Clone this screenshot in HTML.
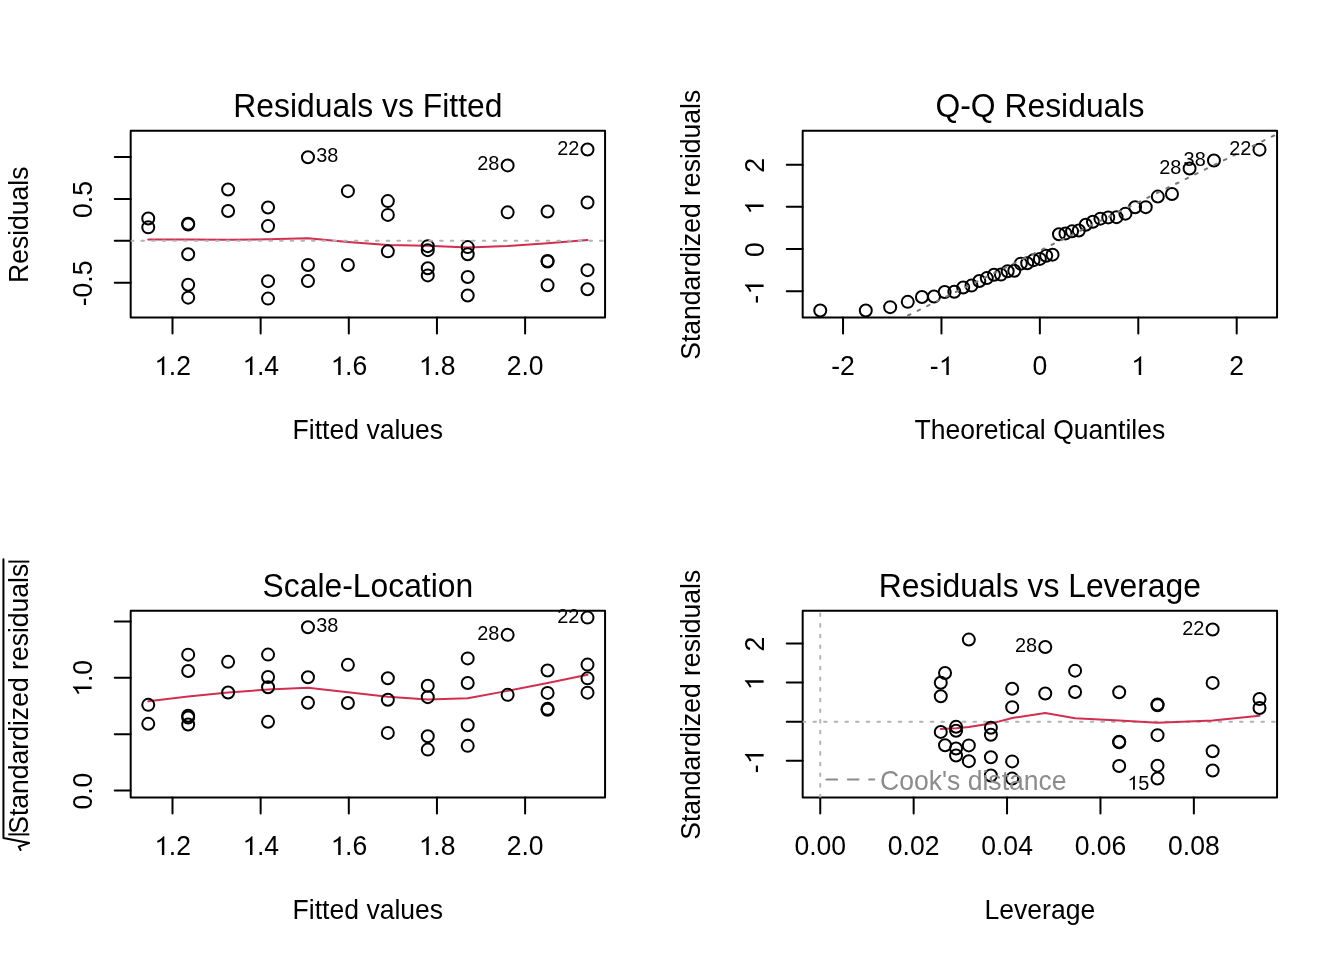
<!DOCTYPE html><html><head><meta charset="utf-8"><style>html,body{margin:0;padding:0;background:#fff}svg{display:block;will-change:transform}text{font-family:"Liberation Sans",sans-serif;fill:#000}</style></head><body><svg width="1344" height="960" viewBox="0 0 1344 960"><rect width="1344" height="960" fill="#fff"/><defs><clipPath id="c0_0"><rect x="130.68" y="130.68" width="474.39" height="186.78"/></clipPath><clipPath id="c0_480"><rect x="130.68" y="610.68" width="474.39" height="186.78"/></clipPath><clipPath id="c672_0"><rect x="802.68" y="130.68" width="474.39" height="186.78"/></clipPath><clipPath id="c672_480"><rect x="802.68" y="610.68" width="474.39" height="186.78"/></clipPath></defs>
<rect x="130.68" y="130.68" width="474.39" height="186.78" fill="none" stroke="#000" stroke-width="2" stroke-linejoin="round"/>
<line x1="172.50" y1="317.45" x2="172.50" y2="333.39" stroke="#000" stroke-width="2" stroke-linecap="round"/>
<g transform="translate(172.50,374.90) scale(1,1.043)"><text text-anchor="middle" font-size="26.56"> .2</text><path transform="translate(-18.46,0) scale(0.02656,-0.02656)" d="M387,0 L387,675 L351,675 C322,632 250,565 112,500 L134,436 C205,462 260,497 295,530 L295,0 Z"/></g>
<line x1="260.65" y1="317.45" x2="260.65" y2="333.39" stroke="#000" stroke-width="2" stroke-linecap="round"/>
<g transform="translate(260.65,374.90) scale(1,1.043)"><text text-anchor="middle" font-size="26.56"> .4</text><path transform="translate(-18.46,0) scale(0.02656,-0.02656)" d="M387,0 L387,675 L351,675 C322,632 250,565 112,500 L134,436 C205,462 260,497 295,530 L295,0 Z"/></g>
<line x1="348.80" y1="317.45" x2="348.80" y2="333.39" stroke="#000" stroke-width="2" stroke-linecap="round"/>
<g transform="translate(348.80,374.90) scale(1,1.043)"><text text-anchor="middle" font-size="26.56"> .6</text><path transform="translate(-18.46,0) scale(0.02656,-0.02656)" d="M387,0 L387,675 L351,675 C322,632 250,565 112,500 L134,436 C205,462 260,497 295,530 L295,0 Z"/></g>
<line x1="436.95" y1="317.45" x2="436.95" y2="333.39" stroke="#000" stroke-width="2" stroke-linecap="round"/>
<g transform="translate(436.95,374.90) scale(1,1.043)"><text text-anchor="middle" font-size="26.56"> .8</text><path transform="translate(-18.46,0) scale(0.02656,-0.02656)" d="M387,0 L387,675 L351,675 C322,632 250,565 112,500 L134,436 C205,462 260,497 295,530 L295,0 Z"/></g>
<line x1="525.10" y1="317.45" x2="525.10" y2="333.39" stroke="#000" stroke-width="2" stroke-linecap="round"/>
<text transform="translate(525.10,374.90) scale(1,1.043)" text-anchor="middle" font-size="26.56">2.0</text>
<line x1="130.68" y1="282.83" x2="114.74" y2="282.83" stroke="#000" stroke-width="2" stroke-linecap="round"/>
<text transform="translate(91.60,283.43) rotate(-90) scale(1,1.043)" text-anchor="middle" font-size="26.56">-0.5</text>
<line x1="130.68" y1="240.87" x2="114.74" y2="240.87" stroke="#000" stroke-width="2" stroke-linecap="round"/>
<line x1="130.68" y1="198.90" x2="114.74" y2="198.90" stroke="#000" stroke-width="2" stroke-linecap="round"/>
<text transform="translate(91.60,199.50) rotate(-90) scale(1,1.043)" text-anchor="middle" font-size="26.56">0.5</text>
<line x1="130.68" y1="156.94" x2="114.74" y2="156.94" stroke="#000" stroke-width="2" stroke-linecap="round"/>
<text transform="translate(367.87,116.80) scale(1,1.043)" text-anchor="middle" font-size="31.87">Residuals vs Fitted</text>
<text transform="translate(367.87,438.60) scale(1,1.043)" text-anchor="middle" font-size="26.56">Fitted values</text>
<text transform="translate(28.00,224.76) rotate(-90) scale(1,1.043)" text-anchor="middle" font-size="26.56">Residuals</text>
<polyline points="148.25,239.47 148.25,239.47 188.18,239.57 188.18,239.57 188.18,239.57 188.18,239.57 188.18,239.57 228.11,239.64 228.11,239.64 268.04,239.33 268.04,239.33 268.04,239.33 268.04,239.33 307.97,238.21 307.97,238.21 307.97,238.21 347.91,241.91 347.91,241.91 387.84,244.96 387.84,244.96 387.84,244.96 427.77,245.72 427.77,245.72 427.77,245.72 427.77,245.72 467.70,247.39 467.70,247.39 467.70,247.39 467.70,247.39 507.63,245.91 507.63,245.91 547.57,243.22 547.57,243.22 547.57,243.22 547.57,243.22 587.50,240.09 587.50,240.09 587.50,240.09 587.50,240.09" fill="none" stroke="#D12E50" stroke-width="2" stroke-linecap="round" stroke-linejoin="round" />
<g fill="none" stroke="#000" stroke-width="2.0">
<circle cx="148.25" cy="218.57" r="6.0"/>
<circle cx="148.25" cy="227.35" r="6.0"/>
<circle cx="188.18" cy="223.65" r="6.0"/>
<circle cx="188.18" cy="224.44" r="6.0"/>
<circle cx="188.18" cy="254.30" r="6.0"/>
<circle cx="188.18" cy="284.76" r="6.0"/>
<circle cx="188.18" cy="297.64" r="6.0"/>
<circle cx="228.11" cy="189.48" r="6.0"/>
<circle cx="228.11" cy="211.05" r="6.0"/>
<circle cx="268.04" cy="207.54" r="6.0"/>
<circle cx="268.04" cy="226.11" r="6.0"/>
<circle cx="268.04" cy="281.13" r="6.0"/>
<circle cx="268.04" cy="298.61" r="6.0"/>
<circle cx="307.97" cy="157.20" r="6.0"/>
<circle cx="307.97" cy="265.04" r="6.0"/>
<circle cx="307.97" cy="281.12" r="6.0"/>
<circle cx="347.91" cy="191.14" r="6.0"/>
<circle cx="347.91" cy="265.03" r="6.0"/>
<circle cx="387.84" cy="201.11" r="6.0"/>
<circle cx="387.84" cy="214.89" r="6.0"/>
<circle cx="387.84" cy="251.34" r="6.0"/>
<circle cx="427.77" cy="246.13" r="6.0"/>
<circle cx="427.77" cy="250.13" r="6.0"/>
<circle cx="427.77" cy="268.30" r="6.0"/>
<circle cx="427.77" cy="275.39" r="6.0"/>
<circle cx="467.70" cy="247.12" r="6.0"/>
<circle cx="467.70" cy="254.21" r="6.0"/>
<circle cx="467.70" cy="277.07" r="6.0"/>
<circle cx="467.70" cy="295.55" r="6.0"/>
<circle cx="507.63" cy="165.42" r="6.0"/>
<circle cx="507.63" cy="212.35" r="6.0"/>
<circle cx="547.57" cy="211.44" r="6.0"/>
<circle cx="547.57" cy="260.97" r="6.0"/>
<circle cx="547.57" cy="261.47" r="6.0"/>
<circle cx="547.57" cy="285.33" r="6.0"/>
<circle cx="587.50" cy="149.52" r="6.0"/>
<circle cx="587.50" cy="202.44" r="6.0"/>
<circle cx="587.50" cy="270.14" r="6.0"/>
<circle cx="587.50" cy="289.31" r="6.0"/>
</g>
<text transform="translate(579.30,154.52) scale(1,1.043)" text-anchor="end" font-size="19.92">22</text>
<text transform="translate(316.27,162.20) scale(1,1.043)" font-size="19.92">38</text>
<text transform="translate(499.43,170.42) scale(1,1.043)" text-anchor="end" font-size="19.92">28</text>
<line x1="130.68" y1="240.87" x2="605.07" y2="240.87" stroke="#B3B3B3" stroke-width="2" stroke-dasharray="2.667 8" stroke-linecap="round" clip-path="url(#c0_0)"/>
<rect x="802.68" y="130.68" width="474.39" height="186.78" fill="none" stroke="#000" stroke-width="2" stroke-linejoin="round"/>
<line x1="843.04" y1="317.45" x2="843.04" y2="333.39" stroke="#000" stroke-width="2" stroke-linecap="round"/>
<text transform="translate(843.04,374.90) scale(1,1.043)" text-anchor="middle" font-size="26.56">-2</text>
<line x1="941.46" y1="317.45" x2="941.46" y2="333.39" stroke="#000" stroke-width="2" stroke-linecap="round"/>
<g transform="translate(941.46,374.90) scale(1,1.043)"><text text-anchor="middle" font-size="26.56">- </text><path transform="translate(-2.96,0) scale(0.02656,-0.02656)" d="M387,0 L387,675 L351,675 C322,632 250,565 112,500 L134,436 C205,462 260,497 295,530 L295,0 Z"/></g>
<line x1="1039.87" y1="317.45" x2="1039.87" y2="333.39" stroke="#000" stroke-width="2" stroke-linecap="round"/>
<text transform="translate(1039.87,374.90) scale(1,1.043)" text-anchor="middle" font-size="26.56">0</text>
<line x1="1138.29" y1="317.45" x2="1138.29" y2="333.39" stroke="#000" stroke-width="2" stroke-linecap="round"/>
<g transform="translate(1138.29,374.90) scale(1,1.043)"><text text-anchor="middle" font-size="26.56"> </text><path transform="translate(-7.39,0) scale(0.02656,-0.02656)" d="M387,0 L387,675 L351,675 C322,632 250,565 112,500 L134,436 C205,462 260,497 295,530 L295,0 Z"/></g>
<line x1="1236.70" y1="317.45" x2="1236.70" y2="333.39" stroke="#000" stroke-width="2" stroke-linecap="round"/>
<text transform="translate(1236.70,374.90) scale(1,1.043)" text-anchor="middle" font-size="26.56">2</text>
<line x1="802.68" y1="291.33" x2="786.74" y2="291.33" stroke="#000" stroke-width="2" stroke-linecap="round"/>
<g transform="translate(763.60,291.93) rotate(-90) scale(1,1.043)"><text text-anchor="middle" font-size="26.56">- </text><path transform="translate(-2.96,0) scale(0.02656,-0.02656)" d="M387,0 L387,675 L351,675 C322,632 250,565 112,500 L134,436 C205,462 260,497 295,530 L295,0 Z"/></g>
<line x1="802.68" y1="249.10" x2="786.74" y2="249.10" stroke="#000" stroke-width="2" stroke-linecap="round"/>
<text transform="translate(763.60,249.70) rotate(-90) scale(1,1.043)" text-anchor="middle" font-size="26.56">0</text>
<line x1="802.68" y1="206.87" x2="786.74" y2="206.87" stroke="#000" stroke-width="2" stroke-linecap="round"/>
<g transform="translate(763.60,207.47) rotate(-90) scale(1,1.043)"><text text-anchor="middle" font-size="26.56"> </text><path transform="translate(-7.39,0) scale(0.02656,-0.02656)" d="M387,0 L387,675 L351,675 C322,632 250,565 112,500 L134,436 C205,462 260,497 295,530 L295,0 Z"/></g>
<line x1="802.68" y1="164.64" x2="786.74" y2="164.64" stroke="#000" stroke-width="2" stroke-linecap="round"/>
<text transform="translate(763.60,165.24) rotate(-90) scale(1,1.043)" text-anchor="middle" font-size="26.56">2</text>
<text transform="translate(1039.87,116.80) scale(1,1.043)" text-anchor="middle" font-size="31.87">Q-Q Residuals</text>
<text transform="translate(1039.87,438.60) scale(1,1.043)" text-anchor="middle" font-size="26.56">Theoretical Quantiles</text>
<text transform="translate(700.00,224.76) rotate(-90) scale(1,1.043)" text-anchor="middle" font-size="26.56">Standardized residuals</text>
<g fill="none" stroke="#000" stroke-width="2.0">
<circle cx="820.25" cy="310.54" r="6.0"/>
<circle cx="865.79" cy="310.51" r="6.0"/>
<circle cx="890.16" cy="307.14" r="6.0"/>
<circle cx="907.76" cy="301.84" r="6.0"/>
<circle cx="921.93" cy="296.99" r="6.0"/>
<circle cx="934.00" cy="296.57" r="6.0"/>
<circle cx="944.66" cy="291.94" r="6.0"/>
<circle cx="954.31" cy="291.72" r="6.0"/>
<circle cx="963.19" cy="287.53" r="6.0"/>
<circle cx="971.49" cy="285.60" r="6.0"/>
<circle cx="979.33" cy="280.97" r="6.0"/>
<circle cx="986.81" cy="278.11" r="6.0"/>
<circle cx="993.98" cy="274.70" r="6.0"/>
<circle cx="1000.93" cy="274.62" r="6.0"/>
<circle cx="1007.68" cy="271.29" r="6.0"/>
<circle cx="1014.28" cy="270.75" r="6.0"/>
<circle cx="1020.78" cy="263.63" r="6.0"/>
<circle cx="1027.19" cy="263.26" r="6.0"/>
<circle cx="1033.54" cy="260.15" r="6.0"/>
<circle cx="1039.87" cy="258.89" r="6.0"/>
<circle cx="1046.20" cy="255.73" r="6.0"/>
<circle cx="1052.56" cy="254.67" r="6.0"/>
<circle cx="1058.97" cy="234.31" r="6.0"/>
<circle cx="1065.46" cy="233.40" r="6.0"/>
<circle cx="1072.06" cy="231.34" r="6.0"/>
<circle cx="1078.82" cy="230.47" r="6.0"/>
<circle cx="1085.76" cy="224.69" r="6.0"/>
<circle cx="1092.94" cy="221.68" r="6.0"/>
<circle cx="1100.41" cy="218.65" r="6.0"/>
<circle cx="1108.25" cy="217.41" r="6.0"/>
<circle cx="1116.55" cy="217.15" r="6.0"/>
<circle cx="1125.44" cy="213.64" r="6.0"/>
<circle cx="1135.08" cy="207.27" r="6.0"/>
<circle cx="1145.74" cy="207.13" r="6.0"/>
<circle cx="1157.81" cy="196.58" r="6.0"/>
<circle cx="1171.98" cy="194.04" r="6.0"/>
<circle cx="1189.58" cy="168.53" r="6.0"/>
<circle cx="1213.95" cy="160.51" r="6.0"/>
<circle cx="1259.50" cy="149.66" r="6.0"/>
</g>
<line x1="802.68" y1="367.24" x2="1277.07" y2="134.07" stroke="#777777" stroke-width="2" stroke-dasharray="2.667 8" stroke-linecap="round" clip-path="url(#c672_0)"/>
<text transform="translate(1251.30,154.66) scale(1,1.043)" text-anchor="end" font-size="19.92">22</text>
<text transform="translate(1205.75,165.51) scale(1,1.043)" text-anchor="end" font-size="19.92">38</text>
<text transform="translate(1181.38,173.53) scale(1,1.043)" text-anchor="end" font-size="19.92">28</text>
<rect x="130.68" y="610.68" width="474.39" height="186.78" fill="none" stroke="#000" stroke-width="2" stroke-linejoin="round"/>
<line x1="172.50" y1="797.45" x2="172.50" y2="813.39" stroke="#000" stroke-width="2" stroke-linecap="round"/>
<g transform="translate(172.50,854.90) scale(1,1.043)"><text text-anchor="middle" font-size="26.56"> .2</text><path transform="translate(-18.46,0) scale(0.02656,-0.02656)" d="M387,0 L387,675 L351,675 C322,632 250,565 112,500 L134,436 C205,462 260,497 295,530 L295,0 Z"/></g>
<line x1="260.65" y1="797.45" x2="260.65" y2="813.39" stroke="#000" stroke-width="2" stroke-linecap="round"/>
<g transform="translate(260.65,854.90) scale(1,1.043)"><text text-anchor="middle" font-size="26.56"> .4</text><path transform="translate(-18.46,0) scale(0.02656,-0.02656)" d="M387,0 L387,675 L351,675 C322,632 250,565 112,500 L134,436 C205,462 260,497 295,530 L295,0 Z"/></g>
<line x1="348.80" y1="797.45" x2="348.80" y2="813.39" stroke="#000" stroke-width="2" stroke-linecap="round"/>
<g transform="translate(348.80,854.90) scale(1,1.043)"><text text-anchor="middle" font-size="26.56"> .6</text><path transform="translate(-18.46,0) scale(0.02656,-0.02656)" d="M387,0 L387,675 L351,675 C322,632 250,565 112,500 L134,436 C205,462 260,497 295,530 L295,0 Z"/></g>
<line x1="436.95" y1="797.45" x2="436.95" y2="813.39" stroke="#000" stroke-width="2" stroke-linecap="round"/>
<g transform="translate(436.95,854.90) scale(1,1.043)"><text text-anchor="middle" font-size="26.56"> .8</text><path transform="translate(-18.46,0) scale(0.02656,-0.02656)" d="M387,0 L387,675 L351,675 C322,632 250,565 112,500 L134,436 C205,462 260,497 295,530 L295,0 Z"/></g>
<line x1="525.10" y1="797.45" x2="525.10" y2="813.39" stroke="#000" stroke-width="2" stroke-linecap="round"/>
<text transform="translate(525.10,854.90) scale(1,1.043)" text-anchor="middle" font-size="26.56">2.0</text>
<line x1="130.68" y1="790.54" x2="114.74" y2="790.54" stroke="#000" stroke-width="2" stroke-linecap="round"/>
<text transform="translate(91.60,791.14) rotate(-90) scale(1,1.043)" text-anchor="middle" font-size="26.56">0.0</text>
<line x1="130.68" y1="734.18" x2="114.74" y2="734.18" stroke="#000" stroke-width="2" stroke-linecap="round"/>
<line x1="130.68" y1="677.83" x2="114.74" y2="677.83" stroke="#000" stroke-width="2" stroke-linecap="round"/>
<g transform="translate(91.60,678.43) rotate(-90) scale(1,1.043)"><text text-anchor="middle" font-size="26.56"> .0</text><path transform="translate(-18.46,0) scale(0.02656,-0.02656)" d="M387,0 L387,675 L351,675 C322,632 250,565 112,500 L134,436 C205,462 260,497 295,530 L295,0 Z"/></g>
<line x1="130.68" y1="621.48" x2="114.74" y2="621.48" stroke="#000" stroke-width="2" stroke-linecap="round"/>
<text transform="translate(367.87,596.80) scale(1,1.043)" text-anchor="middle" font-size="31.87">Scale-Location</text>
<text transform="translate(367.87,918.60) scale(1,1.043)" text-anchor="middle" font-size="26.56">Fitted values</text>
<polyline points="148.25,701.25 148.25,701.25 188.18,696.45 188.18,696.45 188.18,696.45 188.18,696.45 188.18,696.45 228.11,692.56 228.11,692.56 268.04,689.55 268.04,689.55 268.04,689.55 268.04,689.55 307.97,687.69 307.97,687.69 307.97,687.69 347.91,692.24 347.91,692.24 387.84,696.85 387.84,696.85 387.84,696.85 427.77,699.57 427.77,699.57 427.77,699.57 427.77,699.57 467.70,698.17 467.70,698.17 467.70,698.17 467.70,698.17 507.63,690.88 507.63,690.88 547.57,682.95 547.57,682.95 547.57,682.95 547.57,682.95 587.50,674.83 587.50,674.83 587.50,674.83 587.50,674.83" fill="none" stroke="#D12E50" stroke-width="2" stroke-linecap="round" stroke-linejoin="round" />
<g fill="none" stroke="#000" stroke-width="2.0">
<circle cx="148.25" cy="704.85" r="6.0"/>
<circle cx="148.25" cy="723.83" r="6.0"/>
<circle cx="188.18" cy="715.68" r="6.0"/>
<circle cx="188.18" cy="717.44" r="6.0"/>
<circle cx="188.18" cy="724.43" r="6.0"/>
<circle cx="188.18" cy="671.04" r="6.0"/>
<circle cx="188.18" cy="654.63" r="6.0"/>
<circle cx="228.11" cy="661.85" r="6.0"/>
<circle cx="228.11" cy="692.51" r="6.0"/>
<circle cx="268.04" cy="687.27" r="6.0"/>
<circle cx="268.04" cy="721.83" r="6.0"/>
<circle cx="268.04" cy="677.02" r="6.0"/>
<circle cx="268.04" cy="654.60" r="6.0"/>
<circle cx="307.97" cy="627.30" r="6.0"/>
<circle cx="307.97" cy="702.79" r="6.0"/>
<circle cx="307.97" cy="677.31" r="6.0"/>
<circle cx="347.91" cy="664.86" r="6.0"/>
<circle cx="347.91" cy="702.93" r="6.0"/>
<circle cx="387.84" cy="678.19" r="6.0"/>
<circle cx="387.84" cy="699.72" r="6.0"/>
<circle cx="387.84" cy="732.88" r="6.0"/>
<circle cx="427.77" cy="749.62" r="6.0"/>
<circle cx="427.77" cy="736.27" r="6.0"/>
<circle cx="427.77" cy="697.13" r="6.0"/>
<circle cx="427.77" cy="685.76" r="6.0"/>
<circle cx="467.70" cy="745.87" r="6.0"/>
<circle cx="467.70" cy="725.28" r="6.0"/>
<circle cx="467.70" cy="683.02" r="6.0"/>
<circle cx="467.70" cy="658.41" r="6.0"/>
<circle cx="507.63" cy="634.87" r="6.0"/>
<circle cx="507.63" cy="694.84" r="6.0"/>
<circle cx="547.57" cy="692.91" r="6.0"/>
<circle cx="547.57" cy="709.84" r="6.0"/>
<circle cx="547.57" cy="708.85" r="6.0"/>
<circle cx="547.57" cy="670.52" r="6.0"/>
<circle cx="587.50" cy="617.59" r="6.0"/>
<circle cx="587.50" cy="678.37" r="6.0"/>
<circle cx="587.50" cy="692.63" r="6.0"/>
<circle cx="587.50" cy="664.59" r="6.0"/>
</g>
<text transform="translate(579.30,622.59) scale(1,1.043)" text-anchor="end" font-size="19.92">22</text>
<text transform="translate(316.27,632.30) scale(1,1.043)" font-size="19.92">38</text>
<text transform="translate(499.43,639.87) scale(1,1.043)" text-anchor="end" font-size="19.92">28</text>
<text transform="translate(27.80,698.75) rotate(-90) scale(1,1.043)" text-anchor="middle" font-size="26.56">Standardized residuals</text>
<line x1="8.3" y1="834.4" x2="29.3" y2="834.4" stroke="#000" stroke-width="1.9"/>
<line x1="8.3" y1="561.6" x2="29.3" y2="561.6" stroke="#000" stroke-width="1.9"/>
<path d="M3.44,559.2 L3.44,838.1 L29.06,843.1 L18.75,846.6 L20.6,850" fill="none" stroke="#000" stroke-width="2" stroke-linejoin="round" stroke-linecap="round"/>
<rect x="802.68" y="610.68" width="474.39" height="186.78" fill="none" stroke="#000" stroke-width="2" stroke-linejoin="round"/>
<line x1="820.25" y1="797.45" x2="820.25" y2="813.39" stroke="#000" stroke-width="2" stroke-linecap="round"/>
<text transform="translate(820.25,854.90) scale(1,1.043)" text-anchor="middle" font-size="26.56">0.00</text>
<line x1="913.65" y1="797.45" x2="913.65" y2="813.39" stroke="#000" stroke-width="2" stroke-linecap="round"/>
<text transform="translate(913.65,854.90) scale(1,1.043)" text-anchor="middle" font-size="26.56">0.02</text>
<line x1="1007.05" y1="797.45" x2="1007.05" y2="813.39" stroke="#000" stroke-width="2" stroke-linecap="round"/>
<text transform="translate(1007.05,854.90) scale(1,1.043)" text-anchor="middle" font-size="26.56">0.04</text>
<line x1="1100.46" y1="797.45" x2="1100.46" y2="813.39" stroke="#000" stroke-width="2" stroke-linecap="round"/>
<text transform="translate(1100.46,854.90) scale(1,1.043)" text-anchor="middle" font-size="26.56">0.06</text>
<line x1="1193.86" y1="797.45" x2="1193.86" y2="813.39" stroke="#000" stroke-width="2" stroke-linecap="round"/>
<text transform="translate(1193.86,854.90) scale(1,1.043)" text-anchor="middle" font-size="26.56">0.08</text>
<line x1="802.68" y1="760.81" x2="786.74" y2="760.81" stroke="#000" stroke-width="2" stroke-linecap="round"/>
<g transform="translate(763.60,761.41) rotate(-90) scale(1,1.043)"><text text-anchor="middle" font-size="26.56">- </text><path transform="translate(-2.96,0) scale(0.02656,-0.02656)" d="M387,0 L387,675 L351,675 C322,632 250,565 112,500 L134,436 C205,462 260,497 295,530 L295,0 Z"/></g>
<line x1="802.68" y1="721.67" x2="786.74" y2="721.67" stroke="#000" stroke-width="2" stroke-linecap="round"/>
<line x1="802.68" y1="682.54" x2="786.74" y2="682.54" stroke="#000" stroke-width="2" stroke-linecap="round"/>
<g transform="translate(763.60,683.14) rotate(-90) scale(1,1.043)"><text text-anchor="middle" font-size="26.56"> </text><path transform="translate(-7.39,0) scale(0.02656,-0.02656)" d="M387,0 L387,675 L351,675 C322,632 250,565 112,500 L134,436 C205,462 260,497 295,530 L295,0 Z"/></g>
<line x1="802.68" y1="643.40" x2="786.74" y2="643.40" stroke="#000" stroke-width="2" stroke-linecap="round"/>
<text transform="translate(763.60,644.00) rotate(-90) scale(1,1.043)" text-anchor="middle" font-size="26.56">2</text>
<text transform="translate(1039.87,596.80) scale(1,1.043)" text-anchor="middle" font-size="31.87">Residuals vs Leverage</text>
<text transform="translate(1039.87,918.60) scale(1,1.043)" text-anchor="middle" font-size="26.56">Leverage</text>
<text transform="translate(700.00,704.76) rotate(-90) scale(1,1.043)" text-anchor="middle" font-size="26.56">Standardized residuals</text>
<line x1="802.68" y1="721.67" x2="1277.07" y2="721.67" stroke="#B3B3B3" stroke-width="2" stroke-dasharray="2.667 8" stroke-linecap="round" clip-path="url(#c672_480)"/>
<line x1="820.25" y1="797.45" x2="820.25" y2="610.68" stroke="#B3B3B3" stroke-width="2" stroke-dasharray="2.667 8" stroke-linecap="round" clip-path="url(#c672_480)"/>
<polyline points="940.77,728.91 940.77,728.91 940.77,728.91 945.03,728.81 945.03,728.81 956.06,728.23 956.06,728.23 956.06,728.23 956.06,728.23 968.83,727.04 968.83,727.04 968.83,727.04 990.89,723.60 990.89,723.60 990.89,723.60 990.89,723.60 1012.18,717.99 1012.18,717.99 1012.18,717.99 1012.18,717.99 1045.26,713.00 1045.26,713.00 1075.08,718.18 1075.08,718.18 1119.18,720.49 1119.18,720.49 1119.18,720.49 1119.18,720.49 1157.52,722.67 1157.52,722.67 1157.52,722.67 1157.52,722.67 1157.52,722.67 1212.64,720.41 1212.64,720.41 1212.64,720.41 1212.64,720.41 1259.50,715.66 1259.50,715.66" fill="none" stroke="#D12E50" stroke-width="2" stroke-linecap="round" stroke-linejoin="round" />
<g fill="none" stroke="#000" stroke-width="2.0">
<circle cx="1259.50" cy="699.05" r="6.0"/>
<circle cx="1259.50" cy="707.97" r="6.0"/>
<circle cx="1157.52" cy="704.41" r="6.0"/>
<circle cx="1157.52" cy="705.21" r="6.0"/>
<circle cx="1157.52" cy="735.14" r="6.0"/>
<circle cx="1157.52" cy="765.67" r="6.0"/>
<circle cx="1157.52" cy="778.58" r="6.0"/>
<circle cx="1075.08" cy="670.65" r="6.0"/>
<circle cx="1075.08" cy="692.07" r="6.0"/>
<circle cx="1012.18" cy="688.82" r="6.0"/>
<circle cx="1012.18" cy="707.13" r="6.0"/>
<circle cx="1012.18" cy="761.38" r="6.0"/>
<circle cx="1012.18" cy="778.61" r="6.0"/>
<circle cx="968.83" cy="639.58" r="6.0"/>
<circle cx="968.83" cy="745.40" r="6.0"/>
<circle cx="968.83" cy="761.17" r="6.0"/>
<circle cx="945.03" cy="673.01" r="6.0"/>
<circle cx="945.03" cy="745.32" r="6.0"/>
<circle cx="940.77" cy="682.78" r="6.0"/>
<circle cx="940.77" cy="696.26" r="6.0"/>
<circle cx="940.77" cy="731.92" r="6.0"/>
<circle cx="956.06" cy="726.83" r="6.0"/>
<circle cx="956.06" cy="730.75" r="6.0"/>
<circle cx="956.06" cy="748.56" r="6.0"/>
<circle cx="956.06" cy="755.50" r="6.0"/>
<circle cx="990.89" cy="727.82" r="6.0"/>
<circle cx="990.89" cy="734.80" r="6.0"/>
<circle cx="990.89" cy="757.29" r="6.0"/>
<circle cx="990.89" cy="775.46" r="6.0"/>
<circle cx="1045.26" cy="647.01" r="6.0"/>
<circle cx="1045.26" cy="693.46" r="6.0"/>
<circle cx="1119.18" cy="692.31" r="6.0"/>
<circle cx="1119.18" cy="741.74" r="6.0"/>
<circle cx="1119.18" cy="742.24" r="6.0"/>
<circle cx="1119.18" cy="766.05" r="6.0"/>
<circle cx="1212.64" cy="629.52" r="6.0"/>
<circle cx="1212.64" cy="682.91" r="6.0"/>
<circle cx="1212.64" cy="751.21" r="6.0"/>
<circle cx="1212.64" cy="770.55" r="6.0"/>
</g>
<text transform="translate(1204.44,634.52) scale(1,1.043)" text-anchor="end" font-size="19.92">22</text>
<text transform="translate(1037.06,652.01) scale(1,1.043)" text-anchor="end" font-size="19.92">28</text>
<g transform="translate(1149.32,789.78) scale(1,1.043)"><text text-anchor="end" font-size="19.92"> 5</text><path transform="translate(-22.16,0) scale(0.01992,-0.01992)" d="M387,0 L387,675 L351,675 C322,632 250,565 112,500 L134,436 C205,462 260,497 295,530 L295,0 Z"/></g>
<line x1="826.5" y1="779.5" x2="874.3" y2="779.5" stroke="#8C8C8C" stroke-width="2" stroke-dasharray="10.667 10.667" stroke-linecap="round"/>
<text transform="translate(880.00,790.00) scale(1,1.043)" font-size="26.56" style="fill:#8C8C8C">Cook&#39;s distance</text></svg></body></html>
